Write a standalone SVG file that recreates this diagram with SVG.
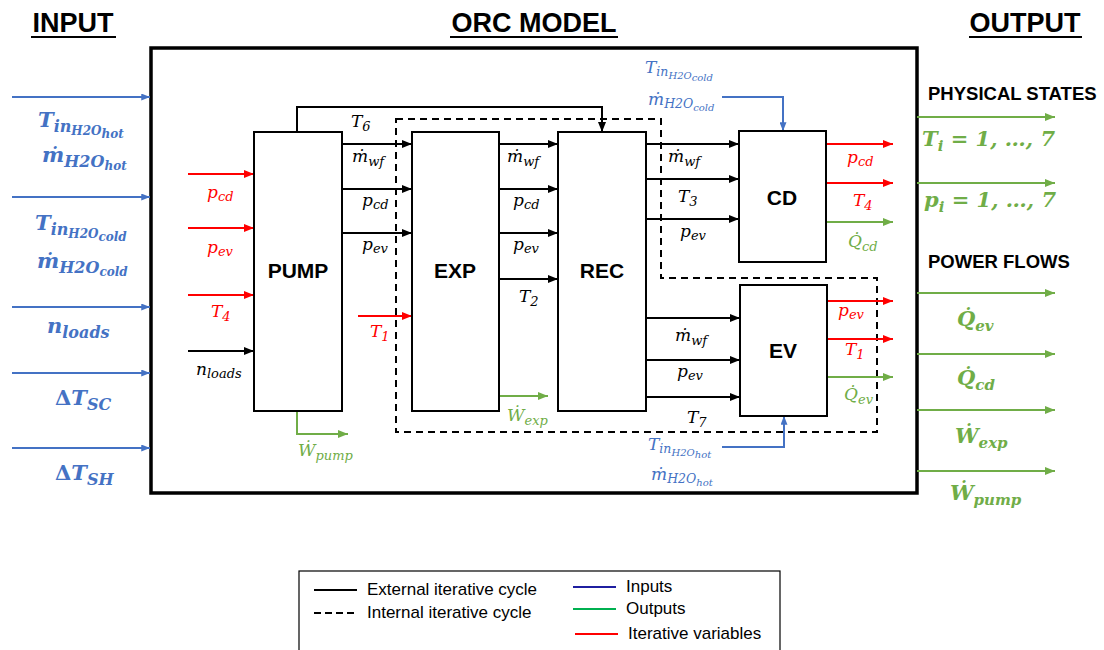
<svg xmlns="http://www.w3.org/2000/svg" width="1104" height="650" viewBox="0 0 1104 650">
<style>
.h{font-family:"Liberation Sans",Arial,sans-serif;font-weight:bold;fill:#000}
.bx{fill:#fff;stroke:#000;stroke-width:2}
.bl{font-family:"Liberation Sans",Arial,sans-serif;font-weight:bold;font-size:21px;text-anchor:middle}
.m{font-family:"DejaVu Serif",serif;font-style:italic;font-size:17px;fill:#000}
.mb{font-family:"DejaVu Serif",serif;font-style:italic;font-weight:bold;font-size:21px}
.red{fill:#FF0000}.blue{fill:#4472C4}.green{fill:#70AD47}
.k{stroke:#000;stroke-width:2;fill:none}
.r{stroke:#FF0000;stroke-width:2.2;fill:none}
.b{stroke:#4472C4;stroke-width:2;fill:none}
.g{stroke:#70AD47;stroke-width:2;fill:none}
.lg{font-family:"Liberation Sans",Arial,sans-serif;font-size:17px;fill:#000}
</style>
<defs>
<marker id="ak" viewBox="0 0 10 8" refX="10" refY="4" markerWidth="10" markerHeight="8" markerUnits="userSpaceOnUse" orient="auto"><path d="M0,0L10,4L0,8Z" fill="#000"/></marker>
<marker id="ar" viewBox="0 0 10 8" refX="10" refY="4" markerWidth="10" markerHeight="8" markerUnits="userSpaceOnUse" orient="auto"><path d="M0,0L10,4L0,8Z" fill="#FF0000"/></marker>
<marker id="ab" viewBox="0 0 10 8" refX="10" refY="4" markerWidth="9" markerHeight="7" markerUnits="userSpaceOnUse" orient="auto"><path d="M0,0L10,4L0,8Z" fill="#4472C4"/></marker>
<marker id="ag" viewBox="0 0 10 8" refX="10" refY="4" markerWidth="10" markerHeight="8" markerUnits="userSpaceOnUse" orient="auto"><path d="M0,0L10,4L0,8Z" fill="#70AD47"/></marker>
</defs>
<rect width="1104" height="650" fill="#fff"/>

<g id="titles">
<text class="h" x="73" y="32" font-size="27" text-anchor="middle">INPUT</text>
<line x1="31" y1="37" x2="116" y2="37" stroke="#000" stroke-width="2"/>
<text class="h" x="534" y="32" font-size="27" text-anchor="middle">ORC MODEL</text>
<line x1="450" y1="37" x2="618" y2="37" stroke="#000" stroke-width="2"/>
<text class="h" x="1025" y="32" font-size="27" text-anchor="middle">OUTPUT</text>
<line x1="969" y1="37" x2="1082" y2="37" stroke="#000" stroke-width="2"/>
</g>

<g id="model">
<rect x="151" y="48" width="766" height="445" fill="none" stroke="#000" stroke-width="3.5"/>
</g>

<g id="connectors">
<path d="M396,119H661V278H877V432H396Z" fill="none" stroke="#000" stroke-width="2" stroke-dasharray="7,5"/>
<line class="b" x1="12" y1="97" x2="150" y2="97" marker-end="url(#ab)"/>
<line class="b" x1="12" y1="197" x2="150" y2="197" marker-end="url(#ab)"/>
<line class="b" x1="12" y1="307" x2="150" y2="307" marker-end="url(#ab)"/>
<line class="b" x1="12" y1="373" x2="150" y2="373" marker-end="url(#ab)"/>
<line class="b" x1="12" y1="448" x2="150" y2="448" marker-end="url(#ab)"/>
<line class="g" x1="917" y1="117" x2="1055" y2="117" marker-end="url(#ag)"/>
<line class="g" x1="917" y1="183" x2="1055" y2="183" marker-end="url(#ag)"/>
<line class="g" x1="917" y1="293" x2="1055" y2="293" marker-end="url(#ag)"/>
<line class="g" x1="917" y1="354" x2="1055" y2="354" marker-end="url(#ag)"/>
<line class="g" x1="917" y1="410" x2="1055" y2="410" marker-end="url(#ag)"/>
<line class="g" x1="917" y1="471" x2="1055" y2="471" marker-end="url(#ag)"/>
<line class="r" x1="188" y1="174" x2="254" y2="174" marker-end="url(#ar)"/>
<line class="r" x1="188" y1="228" x2="254" y2="228" marker-end="url(#ar)"/>
<line class="r" x1="188" y1="295" x2="254" y2="295" marker-end="url(#ar)"/>
<line class="k" x1="188" y1="351" x2="254" y2="351" marker-end="url(#ak)"/>
<path class="k" d="M297,132V107H602V132" marker-end="url(#ak)"/>
<line class="k" x1="342" y1="144" x2="412" y2="144" marker-end="url(#ak)"/>
<line class="k" x1="342" y1="189" x2="412" y2="189" marker-end="url(#ak)"/>
<line class="k" x1="342" y1="233" x2="412" y2="233" marker-end="url(#ak)"/>
<line class="r" x1="358" y1="316" x2="412" y2="316" marker-end="url(#ar)"/>
<path class="g" d="M297,411V434H348" marker-end="url(#ag)"/>
<line class="k" x1="499" y1="144" x2="558" y2="144" marker-end="url(#ak)"/>
<line class="k" x1="499" y1="189" x2="558" y2="189" marker-end="url(#ak)"/>
<line class="k" x1="499" y1="233" x2="558" y2="233" marker-end="url(#ak)"/>
<line class="k" x1="499" y1="279" x2="558" y2="279" marker-end="url(#ak)"/>
<line class="g" x1="499" y1="396" x2="548" y2="396" marker-end="url(#ag)"/>
<line class="k" x1="646" y1="144" x2="739" y2="144" marker-end="url(#ak)"/>
<line class="k" x1="646" y1="179" x2="739" y2="179" marker-end="url(#ak)"/>
<line class="k" x1="646" y1="219" x2="739" y2="219" marker-end="url(#ak)"/>
<line class="k" x1="646" y1="318" x2="740" y2="318" marker-end="url(#ak)"/>
<line class="k" x1="646" y1="360" x2="740" y2="360" marker-end="url(#ak)"/>
<line class="k" x1="646" y1="397" x2="740" y2="397" marker-end="url(#ak)"/>
<path class="b" d="M722,97H783V131" marker-end="url(#ab)"/>
<path class="b" d="M722,447H784V416" marker-end="url(#ab)"/>
<line class="r" x1="826" y1="144" x2="893" y2="144" marker-end="url(#ar)"/>
<line class="r" x1="826" y1="183" x2="893" y2="183" marker-end="url(#ar)"/>
<line class="g" x1="826" y1="222" x2="893" y2="222" marker-end="url(#ag)"/>
<line class="r" x1="827" y1="301" x2="893" y2="301" marker-end="url(#ar)"/>
<line class="r" x1="827" y1="339" x2="893" y2="339" marker-end="url(#ar)"/>
<line class="g" x1="827" y1="377" x2="893" y2="377" marker-end="url(#ag)"/>
</g>

<g id="pump"><rect class="bx" x="254" y="132" width="88" height="279"/><text class="bl" x="298" y="278">PUMP</text></g>
<g id="exp"><rect class="bx" x="412" y="132" width="87" height="279"/><text class="bl" x="455" y="278">EXP</text></g>
<g id="rec"><rect class="bx" x="558" y="132" width="88" height="279"/><text class="bl" x="602" y="278">REC</text></g>
<g id="cd"><rect class="bx" x="739" y="131" width="87" height="131"/><text class="bl" x="782" y="205">CD</text></g>
<g id="ev"><rect class="bx" x="740" y="285" width="87" height="131"/><text class="bl" x="783" y="358">EV</text></g>

<g id="labels">
<text class="mb blue" x="38" y="127">T<tspan font-size="16" dy="5">in</tspan><tspan font-size="12" dy="3">H2O</tspan><tspan font-size="12" dy="3">hot</tspan></text>
<text class="mb blue" x="42" y="162">ṁ<tspan font-size="16" dy="5">H2O</tspan><tspan font-size="12" dy="3">hot</tspan></text>
<text class="mb blue" x="35" y="230">T<tspan font-size="16" dy="5">in</tspan><tspan font-size="12" dy="3">H2O</tspan><tspan font-size="12" dy="3">cold</tspan></text>
<text class="mb blue" x="37" y="268">ṁ<tspan font-size="16" dy="5">H2O</tspan><tspan font-size="12" dy="3">cold</tspan></text>
<text class="mb blue" x="47" y="333">n<tspan font-size="16" dy="5">loads</tspan></text>
<text class="mb blue" x="55" y="405"><tspan font-style="normal">Δ</tspan>T<tspan font-size="16" dy="5">SC</tspan></text>
<text class="mb blue" x="55" y="480"><tspan font-style="normal">Δ</tspan>T<tspan font-size="16" dy="5">SH</tspan></text>

<text class="h" x="928" y="100" font-size="18.5">PHYSICAL STATES</text>
<text class="mb green" x="922" y="146" font-size="20">T<tspan font-size="15" dy="5">i</tspan><tspan dy="-5"> = 1, …, 7</tspan></text>
<text class="mb green" x="924" y="207" font-size="20">p<tspan font-size="15" dy="5">i</tspan><tspan dy="-5"> = 1, …, 7</tspan></text>
<text class="h" x="928" y="268" font-size="18.5">POWER FLOWS</text>
<text class="mb green" x="957" y="326">Q̇<tspan font-size="15" dy="5">ev</tspan></text>
<text class="mb green" x="957" y="385">Q̇<tspan font-size="15" dy="5">cd</tspan></text>
<text class="mb green" x="955" y="443">Ẇ<tspan font-size="15" dy="5">exp</tspan></text>
<text class="mb green" x="950" y="500">Ẇ<tspan font-size="15" dy="5">pump</tspan></text>

<text class="m red" x="207" y="198">p<tspan font-size="13" dy="3">cd</tspan></text>
<text class="m red" x="207" y="253">p<tspan font-size="13" dy="3">ev</tspan></text>
<text class="m red" x="211" y="317">T<tspan font-size="13" dy="4">4</tspan></text>
<text class="m" x="196" y="375">n<tspan font-size="13" dy="3">loads</tspan></text>

<text class="m" x="351" y="127">T<tspan font-size="13" dy="4">6</tspan></text>
<text class="m" x="352" y="162">ṁ<tspan font-size="13" dy="4">wf</tspan></text>
<text class="m" x="362" y="206">p<tspan font-size="13" dy="3">cd</tspan></text>
<text class="m" x="362" y="250">p<tspan font-size="13" dy="3">ev</tspan></text>
<text class="m red" x="370" y="337">T<tspan font-size="13" dy="4">1</tspan></text>
<text class="m green" x="298" y="456">Ẇ<tspan font-size="13" dy="4">pump</tspan></text>

<text class="m" x="507" y="162">ṁ<tspan font-size="13" dy="4">wf</tspan></text>
<text class="m" x="513" y="206">p<tspan font-size="13" dy="3">cd</tspan></text>
<text class="m" x="513" y="250">p<tspan font-size="13" dy="3">ev</tspan></text>
<text class="m" x="519" y="302">T<tspan font-size="13" dy="4">2</tspan></text>
<text class="m green" x="507" y="421">Ẇ<tspan font-size="13" dy="4">exp</tspan></text>

<text class="m" x="668" y="162">ṁ<tspan font-size="13" dy="4">wf</tspan></text>
<text class="m" x="678" y="202">T<tspan font-size="13" dy="4">3</tspan></text>
<text class="m" x="680" y="237">p<tspan font-size="13" dy="3">ev</tspan></text>

<text class="m" x="675" y="341">ṁ<tspan font-size="13" dy="4">wf</tspan></text>
<text class="m" x="677" y="377">p<tspan font-size="13" dy="3">ev</tspan></text>
<text class="m" x="687" y="423">T<tspan font-size="13" dy="4">7</tspan></text>

<text class="m blue" x="645" y="73">T<tspan font-size="12.5" dy="3">in</tspan><tspan font-size="10" dy="3">H2O</tspan><tspan font-size="10" dy="2">cold</tspan></text>
<text class="m blue" x="648" y="105">ṁ<tspan font-size="12.5" dy="3">H2O</tspan><tspan font-size="10" dy="3">cold</tspan></text>
<text class="m blue" x="648" y="450">T<tspan font-size="12.5" dy="3">in</tspan><tspan font-size="10" dy="3">H2O</tspan><tspan font-size="10" dy="2">hot</tspan></text>
<text class="m blue" x="651" y="480">ṁ<tspan font-size="12.5" dy="3">H2O</tspan><tspan font-size="10" dy="3">hot</tspan></text>

<text class="m red" x="847" y="163">p<tspan font-size="13" dy="3">cd</tspan></text>
<text class="m red" x="853" y="206">T<tspan font-size="13" dy="4">4</tspan></text>
<text class="m green" x="848" y="247">Q̇<tspan font-size="13" dy="4">cd</tspan></text>
<text class="m red" x="838" y="316">p<tspan font-size="13" dy="3">ev</tspan></text>
<text class="m red" x="845" y="355">T<tspan font-size="13" dy="4">1</tspan></text>
<text class="m green" x="844" y="400">Q̇<tspan font-size="13" dy="4">ev</tspan></text>
</g>

<g id="legend">
<rect x="299" y="571" width="481" height="82" fill="#fff" stroke="#000" stroke-width="1.2"/>
<line x1="314" y1="590" x2="357" y2="590" stroke="#000" stroke-width="2"/>
<text class="lg" x="367" y="595">External iterative cycle</text>
<line x1="314" y1="613" x2="357" y2="613" stroke="#000" stroke-width="2" stroke-dasharray="7,4"/>
<text class="lg" x="367" y="618">Internal iterative cycle</text>
<line x1="573" y1="587" x2="616" y2="587" stroke="#1F1FA0" stroke-width="2.2"/>
<text class="lg" x="626" y="592">Inputs</text>
<line x1="573" y1="609" x2="616" y2="609" stroke="#00B050" stroke-width="2.2"/>
<text class="lg" x="626" y="614">Outputs</text>
<line x1="575" y1="634" x2="618" y2="634" stroke="#FF0000" stroke-width="2.2"/>
<text class="lg" x="628" y="639">Iterative variables</text>
</g>
</svg>
